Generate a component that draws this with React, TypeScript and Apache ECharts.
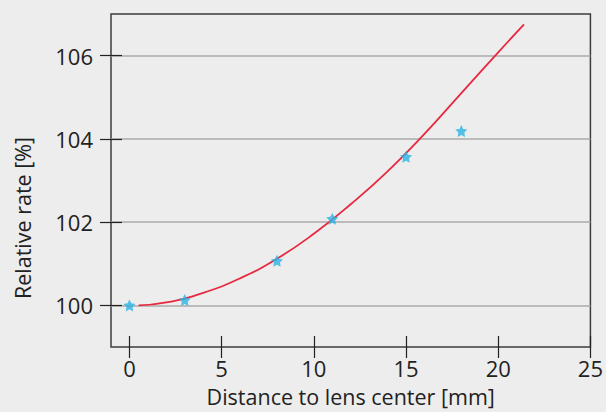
import React, { useEffect, useRef } from "react";
import * as echarts from "echarts";

const curveX = [0.5, 2, 4, 6, 8, 10, 12, 14, 16, 18, 20, 21.4];
const curveY = [100, 100.07, 100.3, 100.65, 101.12, 101.72, 102.43, 103.22, 104.12, 105.1, 106.08, 106.75];

const measX = [0, 3, 8, 11, 15, 18];
const measY = [100.0, 100.13, 101.07, 102.08, 103.57, 104.19];

const xTicks = [0, 5, 10, 15, 20, 25];
const yTicks = [100, 102, 104, 106];

const STAR =
  "path://M50,0 L64.7,29.8 L97.6,34.5 L73.8,57.7 L79.4,90.5 L50,75 L20.6,90.5 L26.2,57.7 L2.4,34.5 L35.3,29.8 Z";

export default function App() {
  const ref = useRef<HTMLDivElement>(null);
  useEffect(() => {
    if (!ref.current) return;
    const chart = echarts.init(ref.current, null, { renderer: "svg" });
    const font = "'Open Sans', 'Noto Sans', sans-serif";
    chart.setOption({
      animation: false,
      backgroundColor: "#ededed",
      textStyle: { fontFamily: font },
      grid: {
        left: 111,
        right: 13,
        top: 14,
        bottom: 64,
        show: true,
        borderColor: "#3c3c3c",
        borderWidth: 1.5,
        backgroundColor: "transparent",
      },
      xAxis: {
        type: "value",
        min: -1,
        max: 25,
        offset: -11,
        axisLine: { show: false, onZero: false },
        axisTick: { show: true, length: 22, customValues: xTicks, lineStyle: { color: "#222", width: 1.2 } },
        axisLabel: { customValues: xTicks, margin: 21, fontSize: 22, color: "#222", fontFamily: font },
        splitLine: { show: false },
        name: "Distance to lens center [mm]",
        nameLocation: "middle",
        nameGap: 49,
        nameTextStyle: { fontSize: 21.5, color: "#222", fontFamily: font },
      },
      yAxis: {
        type: "value",
        min: 99,
        max: 107,
        offset: -11,
        axisLine: { show: false, onZero: false },
        axisTick: { show: true, length: 22, customValues: yTicks, lineStyle: { color: "#222", width: 1.2 } },
        axisLabel: { customValues: yTicks, margin: 29, fontSize: 22, color: "#222", fontFamily: font },
        splitLine: { show: true, lineStyle: { color: "#aaaaaa", width: 1.5 } },
      },
      graphic: [
        {
          type: "text",
          x: 22,
          y: 218,
          rotation: Math.PI / 2,
          style: {
            text: "Relative rate [%]",
            fontSize: 21.5,
            fontFamily: font,
            fill: "#222",
            align: "center",
            verticalAlign: "middle",
          },
        },
      ],
      series: [
        {
          type: "line",
          data: curveX.map((x, i) => [x, curveY[i]]),
          smooth: 0.5,
          showSymbol: false,
          symbol: "none",
          lineStyle: { color: "#e8283f", width: 1.8 },
          z: 2,
        },
        {
          type: "scatter",
          data: measX.map((x, i) => [x, measY[i]]),
          symbol: STAR,
          symbolSize: 12,
          itemStyle: { color: "#2bb3e4" },
          z: 3,
        },
      ],
    });
    return () => chart.dispose();
  }, []);
  return (
    <div
      ref={ref}
      style={{ position: "fixed", left: 0, top: 0, width: 606, height: 412 }}
    />
  );
}
